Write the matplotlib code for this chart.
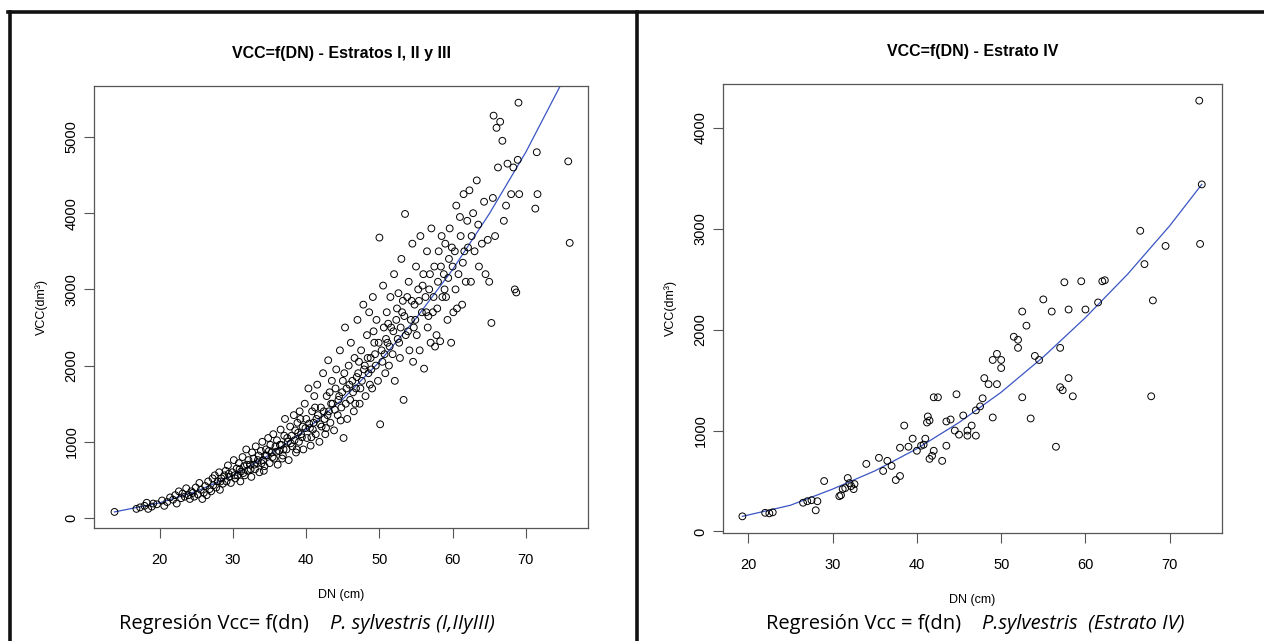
import numpy as np
import matplotlib
matplotlib.use('Agg')
import matplotlib.pyplot as plt
from matplotlib.lines import Line2D

plt.rcParams['font.family'] = ['Liberation Sans', 'DejaVu Sans']

# ---- datos: Estratos I, II y III (DN cm, VCC dm3) ----
pts_123 = [
    (13.8, 80), (16.8, 120), (17.3, 140), (17.9, 160), (18.2, 200), (18.4, 120), (18.9, 150), (19.1, 190),
    (19.6, 180), (20.3, 230), (20.6, 160), (21.0, 210),
    (21.4, 270), (21.8, 240), (22.1, 300), (22.3, 190), (22.6, 350), (22.9, 260), (23.1, 320), (23.4, 280),
    (23.6, 390), (23.9, 300), (24.1, 250), (24.3, 350), (24.5, 330), (24.7, 280), (24.9, 400), (25.2, 310),
    (25.4, 460), (25.6, 370),
    (25.8, 250), (26.0, 330), (26.2, 420), (26.4, 300), (26.6, 480), (26.8, 380), (27.0, 350), (27.2, 520),
    (27.3, 430), (27.5, 560), (27.7, 400), (27.9, 480), (28.1, 600), (28.2, 370), (28.4, 520), (28.6, 450),
    (28.8, 560), (29.0, 620), (29.1, 480), (29.3, 690), (29.5, 540), (29.7, 460), (29.9, 600), (30.1, 760),
    (30.3, 520), (30.5, 650),
    (30.6, 560), (30.8, 720), (31.0, 480), (31.1, 610), (31.3, 800), (31.5, 680), (31.6, 560), (31.8, 900),
    (32.0, 620), (32.1, 760), (32.3, 700), (32.5, 540), (32.6, 860), (32.8, 780), (33.0, 640), (33.1, 940),
    (33.3, 720), (33.5, 820), (33.6, 600), (33.8, 880), (34.0, 1000), (34.1, 760), (34.3, 680), (34.5, 900),
    (34.6, 820), (34.8, 1050), (35.0, 720), (35.1, 960), (35.3, 860), (35.5, 1100), (35.6, 780), (35.8, 940),
    (36.0, 1020), (36.1, 700), (36.3, 880), (36.5, 1160), (36.6, 960), (36.8, 820), (37.0, 1080), (37.1, 1300),
    (37.3, 900), (37.5, 1000), (37.6, 760), (37.8, 1200), (38.0, 1080), (38.1, 940), (38.3, 1350), (38.5, 1150),
    (38.6, 860), (38.8, 1250), (39.0, 1000), (39.1, 1400), (39.3, 1100), (39.5, 1200), (39.6, 900), (39.8, 1500),
    (40.0, 1300), (40.1, 1050), (40.3, 1700), (40.5, 1180), (40.6, 950), (40.8, 1400), (41.0, 1250), (41.1, 1600),
    (41.3, 1100), (41.5, 1750), (41.6, 1350), (41.8, 1000), (42.0, 1450),
    (42.1, 1200), (42.3, 1900), (42.5, 1300), (42.6, 1100), (42.8, 1600), (43.0, 2070), (43.1, 1400), (43.3, 1250),
    (43.5, 1800), (43.6, 1500), (43.8, 1150), (44.0, 1700), (44.1, 1950), (44.3, 1350), (44.5, 1600), (44.6, 2200),
    (44.8, 1450), (45.0, 1800), (45.1, 1050), (45.3, 2500), (45.5, 1700), (45.6, 1300), (45.8, 2000), (46.0, 1550),
    (46.1, 2300),
    (46.3, 1800), (46.5, 1400), (46.6, 2100), (46.8, 1700), (47.0, 2600), (47.1, 1900), (47.3, 1500), (47.5, 2200),
    (47.6, 1800), (47.8, 2800), (48.0, 2000), (48.1, 1600), (48.3, 2400), (48.5, 1900), (48.6, 2700), (48.8, 2100),
    (49.0, 1700), (49.1, 2900), (49.3, 2300), (49.5, 2000), (49.6, 2600), (49.8, 1800), (50.0, 3680), (50.1, 1230),
    (50.3, 2200), (50.5, 3050), (50.6, 2500), (50.8, 1900),
    (51.0, 2700), (51.1, 2300), (51.3, 2000), (51.5, 2900), (51.6, 2500), (51.8, 2150), (52.0, 3200), (52.1, 1800),
    (52.3, 2600), (52.5, 2350), (52.6, 2950), (52.8, 2100), (53.0, 3400), (53.1, 2700), (53.3, 1550), (53.5, 3990),
    (53.6, 2400), (53.8, 2900), (54.0, 3100), (54.1, 2200), (54.3, 2600), (54.5, 3600), (54.6, 2050), (54.8, 2800),
    (55.0, 3300), (55.1, 2400), (55.3, 3000),
    (55.5, 2200), (55.6, 3700), (55.8, 2700), (56.0, 3200), (56.1, 1960), (56.3, 2900), (56.5, 3500), (56.6, 2500),
    (56.8, 3000), (57.0, 2300), (57.1, 3800), (57.3, 2700), (57.5, 3300), (57.6, 2250), (57.8, 2400), (58.0, 3100),
    (58.1, 3500), (58.3, 2320), (58.5, 3700), (58.6, 2900), (58.8, 3200), (59.0, 3600), (59.1, 2900), (59.3, 2600),
    (59.5, 3400), (59.6, 3800), (59.8, 2300), (60.0, 3300),
    (60.1, 2700), (60.3, 3500), (60.5, 4100), (60.6, 2750), (60.8, 3200), (61.0, 3950), (61.1, 3700), (61.3, 2800),
    (61.5, 4250), (61.6, 3500), (61.8, 3100), (62.0, 3900), (62.1, 3550), (62.3, 4300), (62.5, 3100), (62.6, 3700),
    (62.8, 4000), (63.0, 3500), (63.3, 4430), (63.5, 3850), (63.6, 3300), (64.0, 3600), (64.3, 4150), (64.5, 3200),
    (64.8, 3650), (65.0, 3100), (65.3, 2560), (65.5, 4200),
    (65.6, 5280), (65.8, 3700), (66.0, 5120), (66.2, 4600), (66.5, 5200), (66.8, 4950), (67.0, 3900), (67.3, 4100),
    (67.5, 4650), (68.0, 4250), (68.3, 4600), (68.5, 3000), (68.7, 2960), (68.9, 4700), (69.0, 5450), (69.1, 4250),
    (71.3, 4060), (71.5, 4800), (71.6, 4250), (75.8, 4680), (76.0, 3610),
    # nube densa central
    (28.3, 480), (29.4, 580), (30.2, 560), (30.9, 640), (31.4, 590), (31.9, 700), (32.4, 640), (32.9, 700),
    (33.4, 760), (33.9, 720), (34.4, 820), (34.9, 880), (35.4, 800), (35.9, 870), (36.4, 960), (36.9, 900),
    (37.4, 1050), (37.9, 980), (38.4, 1020), (38.9, 1120), (39.4, 1060), (39.9, 1180), (40.4, 1240), (40.9, 1160),
    (41.4, 1300), (41.9, 1230), (42.4, 1400), (42.9, 1350), (43.4, 1500), (43.9, 1420), (44.4, 1550), (44.9, 1650),
    (45.4, 1500), (45.9, 1750), (46.4, 1650), (46.9, 1850), (47.4, 1700), (47.9, 1950), (48.4, 2100), (48.9, 1950),
    (49.4, 2150), (49.9, 2300), (50.4, 2050), (50.9, 2350), (51.4, 2250), (51.9, 2450), (52.4, 2750), (52.9, 2500),
    (53.4, 2650), (53.9, 2450), (54.4, 2850), (54.9, 2600), (55.4, 2850), (55.9, 3050), (56.4, 2700), (56.9, 3200),
    (57.4, 2900), (57.9, 2750), (58.4, 3300), (58.9, 3000), (59.4, 3150), (59.9, 3550), (60.4, 3000), (61.4, 3350),
    (34.2, 620), (36.7, 780), (38.7, 900), (40.7, 1060), (42.7, 1180), (44.7, 1280), (46.7, 1500), (48.7, 1750),
    (50.7, 2150), (52.7, 2300), (54.7, 2500), (56.7, 2650), (39.2, 1300), (41.2, 1450), (43.2, 1650), (45.2, 1900),
    (47.2, 2050), (49.2, 2450), (51.2, 2550), (53.2, 2850),
]
dn_123 = [p[0] for p in pts_123]
vcc_123 = [p[1] for p in pts_123]

# curva ajustada
fit_dn_123 = [13.8, 20, 25, 30, 35, 40, 45, 50, 55, 60, 65, 70, 76]
fit_vcc_123 = [80, 200, 350, 560, 830, 1160, 1560, 2050, 2620, 3260, 3990, 4800, 5910]

# ---- datos: Estrato IV ----
pts_4 = [
    (19.3, 150), (22.0, 185), (22.5, 180), (22.9, 190), (26.5, 285), (27.0, 300), (27.5, 310), (28.0, 210),
    (28.2, 300), (29.0, 500), (30.8, 350), (31.0, 360), (31.2, 420), (31.5, 430), (32.0, 480), (32.2, 450),
    (32.5, 420), (31.8, 530), (32.6, 470), (34.0, 670), (35.5, 730), (36.0, 600), (36.5, 700), (37.0, 650),
    (37.5, 510), (38.0, 550), (38.0, 830), (38.5, 1050), (39.0, 840), (39.5, 920), (40.0, 800), (40.5, 850),
    (40.8, 860), (41.0, 920), (41.2, 1080), (41.3, 1140), (41.5, 1100), (41.5, 720), (41.8, 750), (42.0, 1330),
    (42.5, 1330), (42.0, 800), (43.0, 700), (43.5, 1090), (43.5, 850), (44.0, 1110), (44.5, 1000), (44.7, 1360),
    (45.0, 960), (45.5, 1150), (46.0, 1000), (46.0, 950), (46.5, 1050), (47.0, 1200), (47.0, 950), (47.5, 1240),
    (47.8, 1320), (48.0, 1520), (48.5, 1460), (49.0, 1700), (49.0, 1130), (49.5, 1760), (49.5, 1460), (50.0, 1700),
    (50.0, 1620), (51.5, 1930), (52.0, 1900), (52.0, 1820), (52.5, 2180), (52.5, 1330), (53.0, 2040), (53.5, 1120),
    (54.0, 1740), (54.5, 1700), (55.0, 2300), (56.0, 2180), (56.5, 840), (57.0, 1430), (57.0, 1820), (57.3, 1400),
    (57.5, 2470), (58.0, 1520), (58.5, 1340), (58.0, 2200), (59.5, 2480), (60.0, 2200), (61.5, 2270), (62.0, 2480),
    (62.3, 2490), (66.5, 2980), (67.0, 2650), (67.8, 1340), (68.0, 2290), (69.5, 2830), (73.5, 4270), (73.6, 2850),
    (73.8, 3440),
]
dn_4 = [p[0] for p in pts_4]
vcc_4 = [p[1] for p in pts_4]

fit_dn_4 = [19.3, 25, 30, 35, 40, 45, 50, 55, 60, 65, 70, 73.8]
fit_vcc_4 = [150, 260, 420, 600, 820, 1080, 1380, 1730, 2120, 2550, 3030, 3440]

titles = ['VCC=f(DN) - Estratos I, II y III', 'VCC=f(DN) - Estrato IV']
captions = [('Regresión Vcc= f(dn)    ', 'P. sylvestris (I,IIyIII)'),
            ('Regresión Vcc = f(dn)    ', 'P.sylvestris  (Estrato IV)')]

W, H = 1264, 641
fig = plt.figure(figsize=(W / 100, H / 100), dpi=100)


def px(x0, y0, x1, y1):
    return [x0 / W, 1 - y1 / H, (x1 - x0) / W, (y1 - y0) / H]


ax1 = fig.add_axes(px(94, 86, 588, 528))
ax2 = fig.add_axes(px(723, 84, 1222, 533))

blue = '#3a55c4'
grey = '#555555'

panels = [
    (ax1, dn_123, vcc_123, fit_dn_123, fit_vcc_123, (11.0, 78.5), (-131, 5669), range(0, 5001, 1000)),
    (ax2, dn_4, vcc_4, fit_dn_4, fit_vcc_4, (17.0, 76.2), (-15, 4435), range(0, 4001, 1000)),
]
for i, (ax, x, y, fx, fy, xl, yl, yt) in enumerate(panels):
    ax.scatter(x, y, s=24, facecolors='none', edgecolors='black', linewidths=0.7, zorder=3)
    ax.plot(fx, fy, color=blue, lw=0.9, zorder=2)
    ax.set_xlim(*xl)
    ax.set_ylim(*yl)
    ax.set_xticks(range(20, 71, 10))
    ax.set_yticks(list(yt))
    for lab in ax.get_yticklabels():
        lab.set_rotation(90)
        lab.set_va('center')
    ax.tick_params(direction='out', length=7, width=0.8, color=grey, labelsize=10.5)
    ax.tick_params(axis='x', pad=11)
    ax.tick_params(axis='y', pad=4)
    for s in ax.spines.values():
        s.set_color(grey)
        s.set_linewidth(0.9)
    ax.set_xlabel('DN (cm)', fontsize=9, labelpad=16)
    ax.set_ylabel('VCC(dm³)', fontsize=9, labelpad=12)
    ax.set_title(titles[i], fontsize=11.5, fontweight='bold', pad=20)

# pies de figura
for cx, (a, b) in zip([330 / W, 982 / W], captions):
    fig.text(cx, 1 - 624 / H, a, ha='right', va='center', fontsize=14.5, family='Open Sans')
    fig.text(cx, 1 - 624 / H, b, ha='left', va='center', fontsize=14.5, family='Open Sans', style='italic')

# marco negro
for (xa, ya, xb, yb) in [(8, 12, W, 12), (10, 12, 10, H), (637, 12, 637, H)]:
    fig.add_artist(Line2D([xa / W, xb / W], [1 - ya / H, 1 - yb / H], color='#111111', lw=2.6))

fig.savefig('out.png', dpi=100)
